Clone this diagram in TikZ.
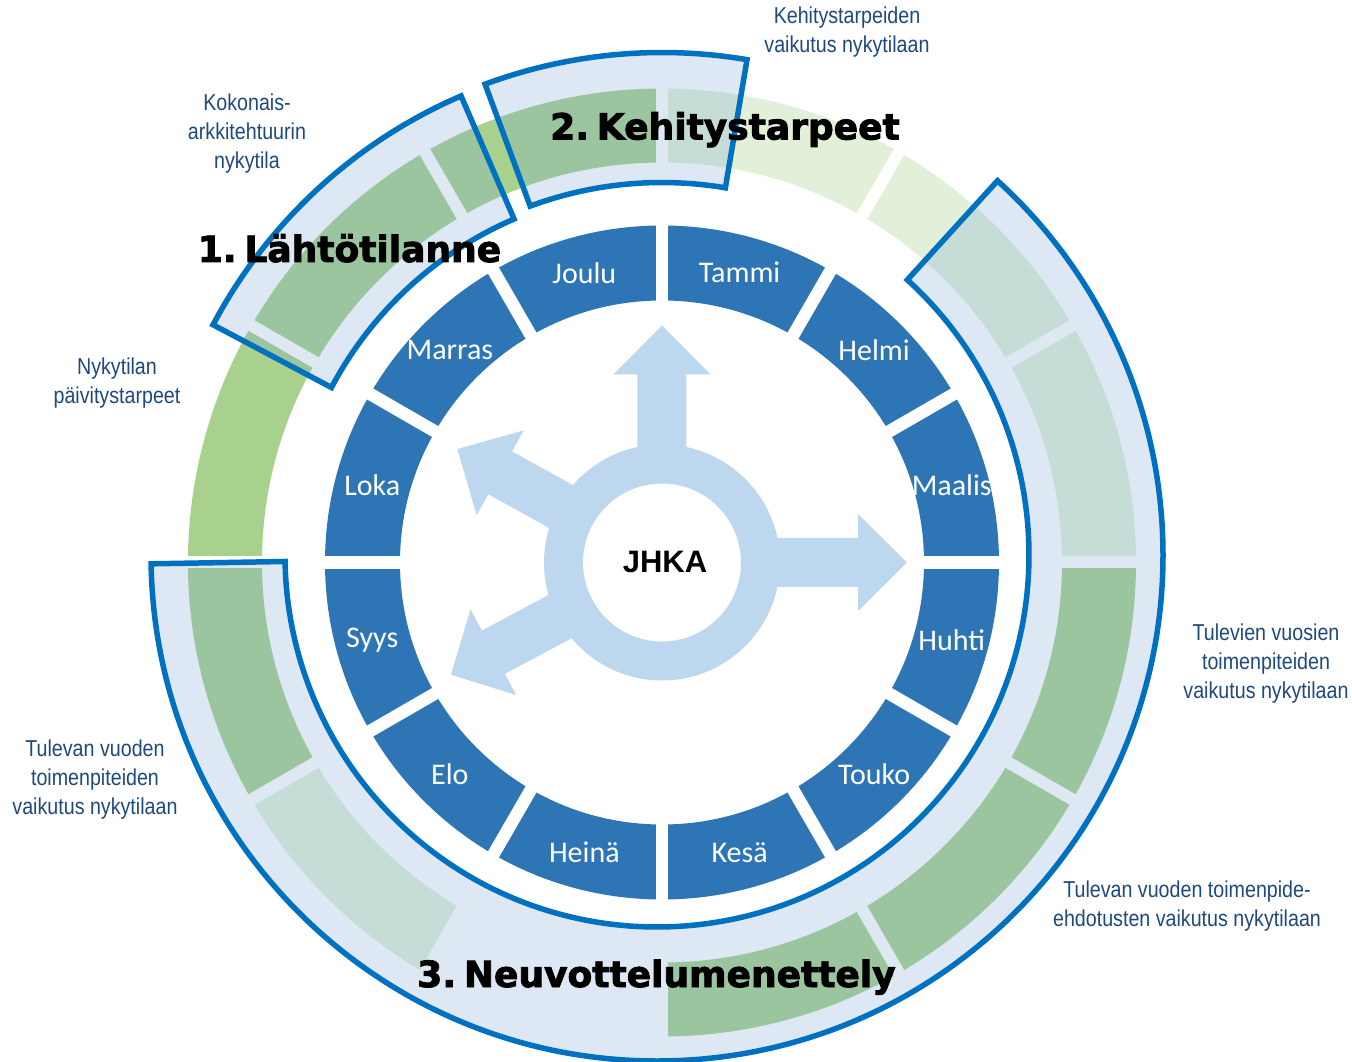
\documentclass[tikz,border=0pt]{standalone}
\usepackage{fontspec}
\setmainfont{Liberation Sans}
\newfontfamily\labelfont{Liberation Sans}[FakeStretch=0.855]
\newfontfamily\monthfont{Carlito}
\newfontfamily\titlefont{DejaVu Sans}[BoldFeatures={FakeBold=2.5}]
\definecolor{monthblue}{HTML}{2E75B6}
\definecolor{arrowblue}{HTML}{BDD7EE}
\definecolor{brightgreen}{HTML}{A9D18E}
\definecolor{palegreen}{HTML}{E2F0D9}
\definecolor{bandtint}{RGB}{113,159,209}
\definecolor{bandline}{HTML}{0070C0}
\definecolor{labelblue}{HTML}{1F497D}
\newcommand\ansector[5]{\fill[#1] (#2:#4) arc[start angle=#2,end angle=#3,radius=#4] -- (#3:#5) arc[start angle=#3,end angle=#2,radius=#5] -- cycle;}
\newcommand\bandsec[4]{\filldraw[band] (#1:#3) arc[start angle=#1,end angle=#2,radius=#3] -- (#2:#4) arc[start angle=#2,end angle=#1,radius=#4] -- cycle;}
\begin{document}
\begin{tikzpicture}[x=1pt,y=1pt,
  band/.style={fill=bandtint,fill opacity=0.24,draw=bandline,line width=5.5,line join=miter},
  monthlabel/.style={text=white,font=\monthfont\fontsize{30}{30}\selectfont,inner sep=0},
  sidelabel/.style={text=labelblue,align=center,font=\labelfont\fontsize{23}{29}\selectfont,inner sep=0},
  titlelabel/.style={text=black,anchor=base,font=\titlefont\bfseries\fontsize{36}{36}\selectfont,inner sep=0}]
\useasboundingbox (-662,-499.5) rectangle (690,562.5);

% outer green ring
\ansector{brightgreen}{90}{210}{400}{474}
\ansector{palegreen}{210}{240}{400}{474}
\ansector{brightgreen}{270}{360}{400}{474}
\ansector{palegreen}{0}{90}{400}{474}
\foreach \a in {0,30,...,330} {\draw[white,line width=12] (\a:394) -- (\a:480);}

% highlighted bands
\bandsec{113.3}{152.1}{374}{508}
\bandsec{80.4}{110.3}{380}{510}
\begin{scope}[shift={(-5,7.5)}]
\bandsec{47.7}{-179}{372}{506}
\end{scope}

% month ring
\fill[monthblue,even odd rule] (0,0) circle[radius=337] (0,0) circle[radius=262];
\foreach \a in {0,30,...,330} {\draw[white,line width=12.5] (\a:255) -- (\a:345);}

% central ring and arrows
\fill[arrowblue,even odd rule] (0,0) circle[radius=118] (0,0) circle[radius=79];
\foreach \ang/\b/\t in {90/188/237, 0/196/245, 151/185/234, 208/191/239} {
  \fill[arrowblue,rotate=\ang] (100,-24.5) -- (\b,-24.5) -- (\b,-48.5) -- (\t,0) -- (\b,48.5) -- (\b,24.5) -- (100,24.5) -- cycle;
}
\node[inner sep=0,font=\bfseries\fontsize{31}{31}\selectfont] (jhka) at (3,0.8) {JHKA};

% month labels
\node[monthlabel] (m-tammi) at (75:300) {Tammi};
\node[monthlabel] (m-helmi) at (45:300) {Helmi};
\node[monthlabel] (m-maalis) at (15:300) {Maalis};
\node[monthlabel] (m-huhti) at (-15:300) {Huhti};
\node[monthlabel] (m-touko) at (-45:300) {Touko};
\node[monthlabel] (m-kesa) at (-75:300) {Kesä};
\node[monthlabel] (m-heina) at (-105:300) {Heinä};
\node[monthlabel] (m-elo) at (-135:300) {Elo};
\node[monthlabel] (m-syys) at (-165:300) {Syys};
\node[monthlabel] (m-loka) at (165:300) {Loka};
\node[monthlabel] (m-marras) at (135:300) {Marras};
\node[monthlabel] (m-joulu) at (105:300) {Joulu};

% side labels
\node[sidelabel] (l-kokonais) at (-415,428.5) {Kokonais-\\arkkitehtuurin\\nykytila};
\node[sidelabel] (l-kehitys) at (185,530) {Kehitystarpeiden\\vaikutus nykytilaan};
\node[sidelabel] (l-nykytilan) at (-545,179) {Nykytilan\\päivitystarpeet};
\node[sidelabel] (l-tulevien) at (604,-101.5) {Tulevien vuosien\\toimenpiteiden\\vaikutus nykytilaan};
\node[sidelabel] (l-ehdotus) at (525,-344) {Tulevan vuoden toimenpide-\\ehdotusten vaikutus nykytilaan};
\node[sidelabel] (l-tulevan) at (-567,-217.5) {Tulevan vuoden\\toimenpiteiden\\vaikutus nykytilaan};

% titles
\node[titlelabel] (t-1) at (-312.5,300.5) {1.\hspace{0.22em}Lähtötilanne};
\node[titlelabel] (t-2) at (63,423) {2.\hspace{0.22em}Kehitystarpeet};
\node[titlelabel] (t-3) at (-5.5,-424.5) {3.\hspace{0.22em}Neuvottelumenettely};
\end{tikzpicture}
\end{document}
